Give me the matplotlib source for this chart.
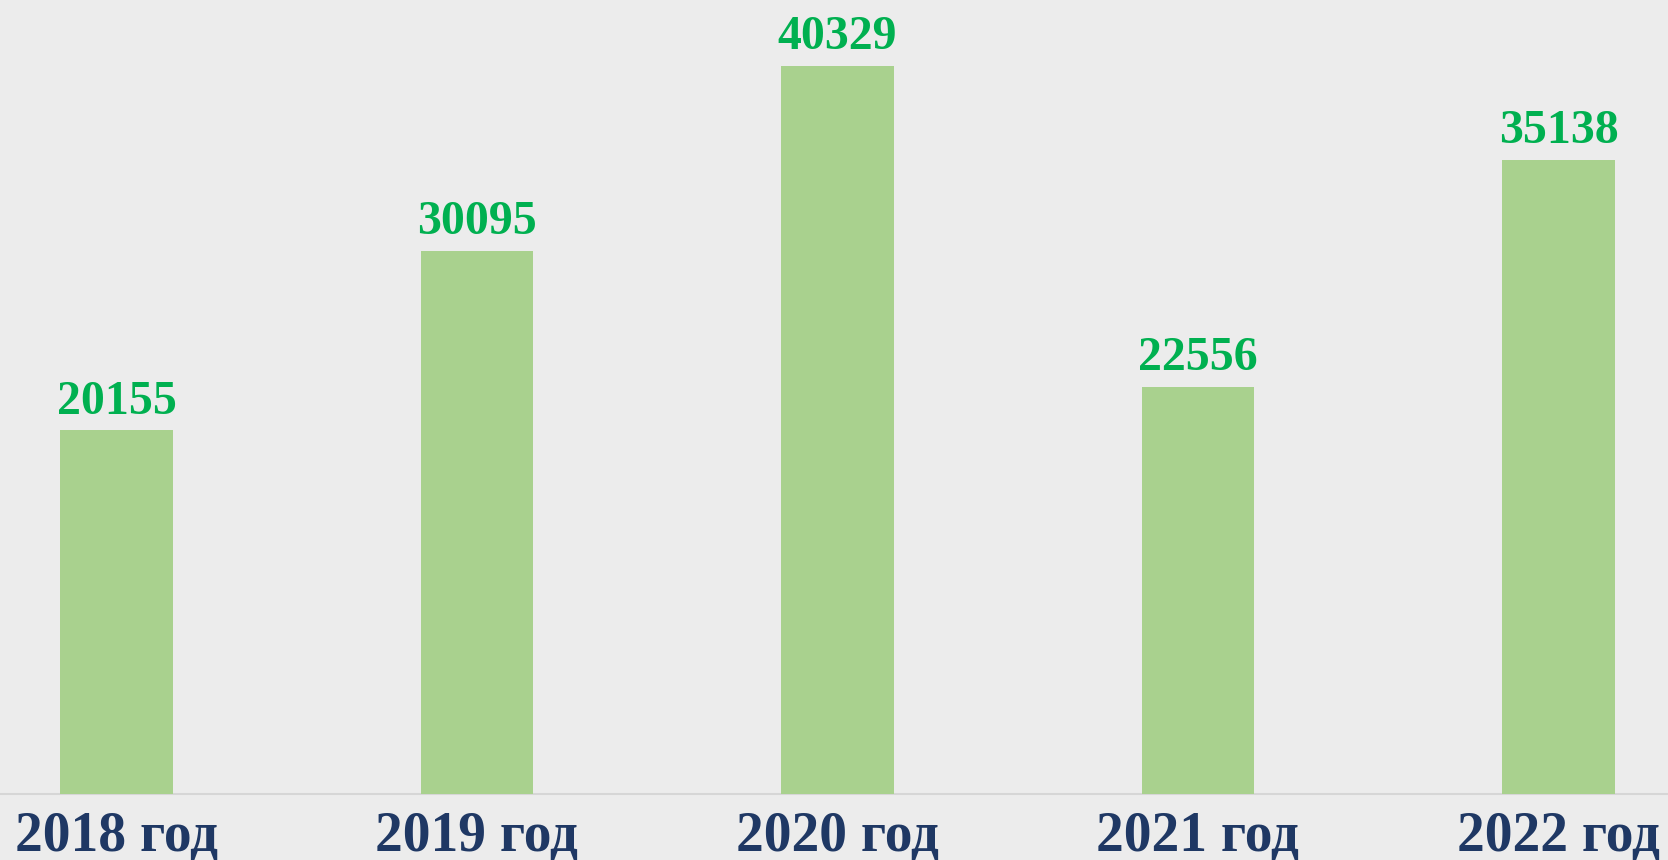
import matplotlib
matplotlib.use("Agg")
import matplotlib.pyplot as plt

categories = ["2018 год", "2019 год", "2020 год", "2021 год", "2022 год"]
values = [20155, 30095, 40329, 22556, 35138]

bar_color = "#a9d18e"
value_color = "#00b050"
label_color = "#1f3864"
bg_color = "#ececec"

fig = plt.figure(figsize=(16.68, 8.60), dpi=100)
fig.patch.set_facecolor(bg_color)
ax = fig.add_axes([0, 66 / 860, 1, 794 / 860])
ax.set_facecolor(bg_color)

x = list(range(len(categories)))
bars = ax.bar(x, values, width=0.313, color=bar_color, zorder=2)

ax.set_xlim(-116.5 / 360.5, (1668 - 116.5) / 360.5)
ax.set_ylim(0, 40329 * 794 / 728)

for s in ax.spines.values():
    s.set_visible(False)
ax.axhline(0, color="#d6d6d6", lw=1.5, zorder=1, clip_on=False)
ax.set_xticks([])
ax.set_yticks([])

font = ["Liberation Serif", "DejaVu Serif"]
for xi, v, lab in zip(x, values, categories):
    ax.annotate(f"{v}", xy=(xi, v), xytext=(0, 12), textcoords="offset points",
                ha="center", va="baseline", fontsize=34.5, fontweight="bold",
                color=value_color, family=font)
    ax.annotate(lab, xy=(xi, 0), xytext=(0, -41), textcoords="offset points",
                ha="center", va="baseline", fontsize=40, fontweight="bold",
                color=label_color, family=font, annotation_clip=False)

fig.savefig("out.png", dpi=100, facecolor=bg_color)
